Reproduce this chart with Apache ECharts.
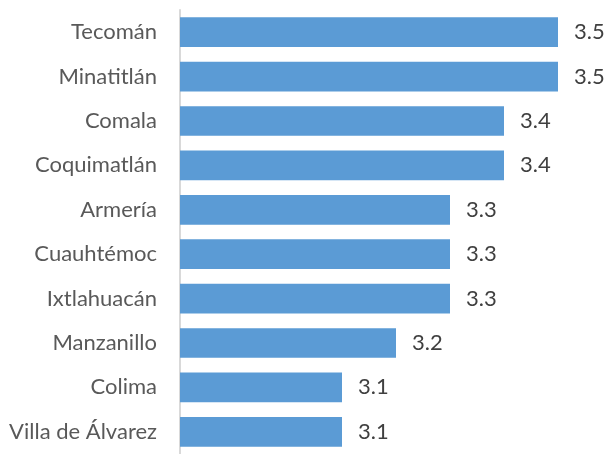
<!DOCTYPE html>
<html><head><meta charset="utf-8">
<script src="https://cdn.jsdelivr.net/npm/echarts@6/dist/echarts.min.js"></script>
<style>html,body{margin:0;padding:0;background:#fff}#c{width:605px;height:454px}</style>
</head><body><div id="c"></div>
<script>
const categories = ["Tecomán","Minatitlán","Comala","Coquimatlán","Armería","Cuauhtémoc","Ixtlahuacán","Manzanillo","Colima","Villa de Álvarez"];
const values = [3.5,3.5,3.4,3.4,3.3,3.3,3.3,3.2,3.1,3.1];

const chart = echarts.init(document.getElementById('c'));
chart.setOption({
  animation:false,
  grid:{left:180, top:10, width:405, height:450},
  xAxis:{type:'value', min:2.8, max:3.55, show:false},
  yAxis:{type:'category', data:categories, inverse:true,
    axisLine:{show:true, lineStyle:{color:'#d9d9d9', width:2}},
    axisTick:{show:false},
    axisLabel:{color:'#595959', fontSize:22, fontFamily:'Lato', margin:23}},
  series:[{type:'bar', data:values, barCategoryGap:'33%',
    itemStyle:{color:'#5B9BD5'},
    label:{show:true, position:'right', distance:16, color:'#404040', fontSize:22, fontFamily:'Lato',
      formatter:p=>p.value.toFixed(1)}}]
});
</script></body></html>
